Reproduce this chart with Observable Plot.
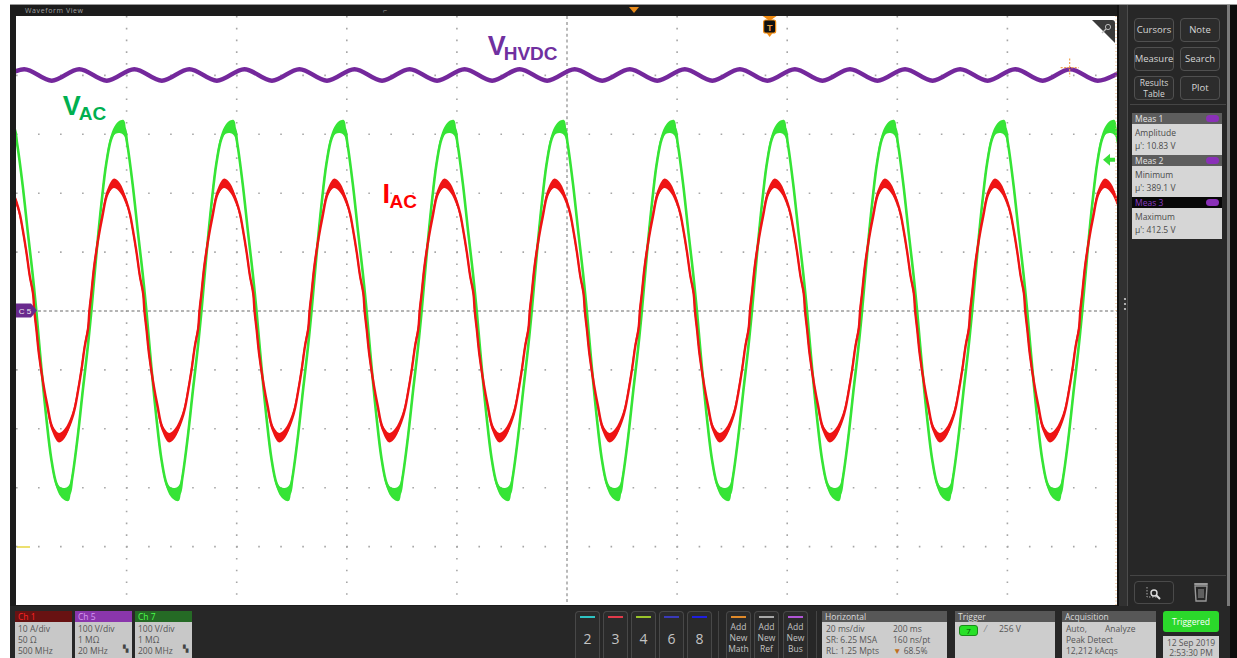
<!DOCTYPE html>
<html><head><meta charset="utf-8">
<script src="https://cdn.jsdelivr.net/npm/d3@7"></script>
<script src="https://cdn.jsdelivr.net/npm/@observablehq/plot@0.6"></script>
<style>
body{margin:0;width:1237px;height:658px;background:#fff;position:relative;overflow:hidden;font-family:"Open Sans","Noto Sans",sans-serif;}
.abs{position:absolute;}
.btn{position:absolute;width:38px;height:22px;border:1px solid #505050;border-radius:4px;background:#2c2c2c;color:#d6d6d6;font-size:9.5px;display:flex;align-items:center;justify-content:center;text-align:center;line-height:10px;}
.mh{position:absolute;left:1132px;width:87px;height:11px;background:#5d5d5d;color:#e6e6e6;font-size:8.5px;line-height:11px;padding-left:3px;}
.mb{position:absolute;left:1132px;width:87px;height:29px;background:#d6d6d6;color:#4a4a4a;font-size:8.5px;line-height:13px;padding:2px 0 0 3px;box-sizing:content-box;}
.pill{position:absolute;right:3px;top:2px;width:13px;height:7px;border-radius:4px;background:#8a30b8;}
.ch{position:absolute;top:611px;width:57px;height:47px;}
.chh{height:11px;font-size:8.5px;line-height:11px;padding-left:3px;}
.chb{height:36px;background:#c8c8c8;color:#555;font-size:8.5px;line-height:11px;padding:1px 0 0 3px;position:relative;}
.nb{position:absolute;top:611px;width:23px;height:47px;border:1px solid #484848;border-bottom:none;border-radius:4px 4px 0 0;background:#2b2b2b;color:#c4c4c4;text-align:center;}
.nb .ln{position:absolute;left:4px;top:4px;width:15px;height:2px;}
.nb .num{position:absolute;left:0;width:23px;top:17px;font-size:14px;}
.nb .add{position:absolute;left:0;width:23px;top:9px;font-size:8.5px;line-height:11px;}
.box{position:absolute;top:611px;height:47px;}
.bh{height:11px;background:#575757;color:#dcdcdc;font-size:8.5px;line-height:11px;padding-left:3px;}
.bb{height:36px;background:#cdcdcd;color:#555;font-size:8.5px;line-height:11px;padding:1px 0 0 4px;position:relative;}
</style></head><body>
<script>
const timeDomain = [-100, 100];           // ms, 20 ms/div, 10 div
const divDomain = [-5, 5];                // vertical divisions
const gridTimes = [-80, -60, -40, -20, 20, 40, 60, 80];
const gridDivs = [-4, -3, -2, -1, 1, 2, 3, 4];
const ch7VoltsPerDiv = 100;   // VAC
const ch5VoltsPerDiv = 100;   // VHVDC
const ch1AmpsPerDiv = 10;     // IAC

// VAC (Ch 7): one period, ms after the rising zero crossing
const vacCycleMs = [0, 0.9, 1.8, 2.7, 3.6, 4.5, 5.4, 6.0, 6.5, 7.5, 8.5, 9.3, 10.0, 10.9, 11.8, 12.7, 13.6, 14.5, 15.4, 16.0, 16.5, 17.5, 18.5, 19.3];
const vacCycleV  = [0, 95, 180, 250, 292, 308, 312, 310, 285, 215, 130, 65, 0, -95, -180, -250, -292, -308, -312, -310, -285, -215, -130, -65];
const vacNoiseV  = [3, 3, 3, 3, 5, 8, 11, 13, 4, 3, 3, 3, 3, 3, 3, 3, 5, 8, 11, 13, 4, 3, 3, 3];
const vacZeroCrossMs = [-126.4, -106.4, -86.4, -66.4, -46.4, -26.4, -6.4, 13.6, 33.6, 53.6, 73.6, 93.6];

// IAC (Ch 1): same period, ms after the VAC rising zero crossing
const iacCycleMs = [0, 0.5, 1.3, 2.0, 2.9, 4.2, 5.3, 6.4, 7.0, 7.5, 8.2, 8.8, 9.4, 9.64, 10.0, 10.5, 11.3, 12.0, 12.9, 14.2, 15.3, 16.4, 17.0, 17.5, 18.2, 18.8, 19.4, 19.64];
const iacCycleA  = [3, 7.5, 12.5, 16, 19.8, 21.6, 20.8, 18.5, 16.5, 14, 10, 6, 3, 0, -3, -7.5, -12.5, -16, -19.8, -21.6, -20.8, -18.5, -16.5, -14, -10, -6, -3, 0];
const iacNoiseA  = [0.4, 0.4, 0.4, 0.5, 0.6, 0.8, 0.8, 0.6, 0.5, 0.4, 0.4, 0.4, 0.4, 0.4, 0.4, 0.4, 0.4, 0.5, 0.6, 0.8, 0.8, 0.6, 0.5, 0.4, 0.4, 0.4, 0.4, 0.4];

// VHVDC (Ch 5): ripple extremes
const hvdcMaxMs = [-98.6, -88.6, -78.6, -68.6, -58.6, -48.6, -38.6, -28.6, -18.6, -8.6, 1.4, 11.4, 21.4, 31.4, 41.4, 51.4, 61.4, 71.4, 81.4, 91.4, 101.4];
const hvdcMinMs = [-103.6, -93.6, -83.6, -73.6, -63.6, -53.6, -43.6, -33.6, -23.6, -13.6, -3.6, 6.4, 16.4, 26.4, 36.4, 46.4, 56.4, 66.4, 76.4, 86.4, 96.4];
const hvdcMaxV = 410.5;
const hvdcMinV = 391.0;

const triggerMs = 36.9;
const triggerLevelV = 256;
const cursorMs = 91.4;
const cursorV = 412.5;

const labelText = ["V", "V", "I"];
const labelSub = ["HVDC", "AC", "AC"];
const labelMs = [-14.4, -91.6, -33.5];
const labelDiv = [4.34, 3.32, 1.83];
const labelSubDx = [16, 16, 7];
const labelColor = ["#7030a0", "#00b050", "#ff0000"];

// ---------- build tables ----------
const vac = [];
for (const z of vacZeroCrossMs) vacCycleMs.forEach((m, i) => vac.push({
  ms: z + m, div: vacCycleV[i] / ch7VoltsPerDiv,
  lo: (vacCycleV[i] - vacNoiseV[i]) / ch7VoltsPerDiv, hi: (vacCycleV[i] + vacNoiseV[i]) / ch7VoltsPerDiv}));
const iac = [];
for (const z of vacZeroCrossMs) iacCycleMs.forEach((m, i) => iac.push({
  ms: z + m, div: iacCycleA[i] / ch1AmpsPerDiv,
  lo: (iacCycleA[i] - iacNoiseA[i]) / ch1AmpsPerDiv, hi: (iacCycleA[i] + iacNoiseA[i]) / ch1AmpsPerDiv}));
const hvdc = hvdcMaxMs.map(ms => ({ms, div: hvdcMaxV / ch5VoltsPerDiv}))
  .concat(hvdcMinMs.map(ms => ({ms, div: hvdcMinV / ch5VoltsPerDiv})))
  .sort((a, b) => a.ms - b.ms);
const labels = labelText.map((t, i) => ({t, sub: labelSub[i], ms: labelMs[i], div: labelDiv[i], dx: labelSubDx[i], color: labelColor[i]}));

const green = "#36e436", red = "#ee1414", purple = "#74289c";
const plot = Plot.plot({
  width: 1101, height: 589,
  marginTop: 0, marginRight: 0, marginBottom: 0, marginLeft: 0,
  x: {domain: timeDomain, axis: null},
  y: {domain: divDomain, axis: null},
  style: {background: "#fff", overflow: "hidden"},
  marks: [
    Plot.ruleX(gridTimes, {stroke: "#a6a6a6", strokeWidth: 1.6, strokeDasharray: "1.6 10.18"}),
    Plot.ruleY(gridDivs, {stroke: "#a6a6a6", strokeWidth: 1.6, strokeDasharray: "1.6 20.42"}),
    Plot.ruleX([0], {stroke: "#9c9c9c", strokeWidth: 1.4, strokeDasharray: "3 2.89"}),
    Plot.ruleY([0], {stroke: "#9c9c9c", strokeWidth: 1.4, strokeDasharray: "3 2.5"}),
    Plot.line(hvdc, {x: "ms", y: "div", stroke: purple, strokeWidth: 4.5, curve: "catmull-rom"}),
    Plot.areaY(vac, {x: "ms", y1: "lo", y2: "hi", fill: green, curve: "catmull-rom"}),
    Plot.line(vac, {x: "ms", y: "div", stroke: green, strokeWidth: 2.6, curve: "catmull-rom"}),
    Plot.areaY(iac, {x: "ms", y1: "lo", y2: "hi", fill: red, curve: "catmull-rom"}),
    Plot.line(iac, {x: "ms", y: "div", stroke: red, strokeWidth: 2.4, curve: "catmull-rom"}),
    Plot.text(labels, {x: "ms", y: "div", text: "t", fill: "color", textAnchor: "start", lineAnchor: "bottom",
      fontSize: 27, fontWeight: "bold", fontFamily: "Liberation Sans, Arial, sans-serif"}),
    Plot.text(labels, {x: "ms", y: "div", text: "sub", fill: "color", textAnchor: "start", lineAnchor: "bottom",
      fontSize: 19, fontWeight: "bold", fontFamily: "Liberation Sans, Arial, sans-serif"})
  ]
});
// shift the subscripts
const subTexts = plot.querySelectorAll("g[aria-label='text']")[1].querySelectorAll("text");
subTexts.forEach((el, i) => { el.setAttribute("dx", labels[i].dx); el.setAttribute("dy", 5); });
plot.style.position = "absolute"; plot.style.left = "16px"; plot.style.top = "16px";

// ---------- chrome ----------
const html = `
<div class="abs" style="left:10px;top:5px;width:1227px;height:653px;background:#1c1c1c"></div>
<div class="abs" style="left:10px;top:4px;width:1227px;height:1px;background:#9a9a9a"></div>
<div class="abs" style="left:25px;top:6px;font-size:7px;color:#a0a0a0;letter-spacing:.6px">Waveform View</div>
<div class="abs" style="left:383px;top:6px;font-size:7px;color:#a0a0a0">⌐</div>
<svg class="abs" style="left:628px;top:6px" width="12" height="10"><path d="M1 1 H11 L6 7 Z" fill="#e88a1a"/></svg>
<div class="abs" style="left:1117px;top:5px;width:2px;height:602px;background:#111"></div>
<div class="abs" style="left:1119px;top:5px;width:8px;height:602px;background:#313131"></div>
<div class="abs" style="left:1127px;top:5px;width:1px;height:602px;background:#4c4c4c"></div>
<div class="abs" style="left:1128px;top:5px;width:99px;height:602px;background:#272727"></div>
<div class="abs" style="left:1227px;top:5px;width:3px;height:602px;background:#7a7a7a"></div>
<div class="abs" style="left:1230px;top:5px;width:7px;height:653px;background:#0c0c0c"></div>
<svg class="abs" style="left:1122px;top:296px" width="6" height="16"><circle cx="3" cy="3" r="1.1" fill="#cfcfcf"/><circle cx="3" cy="8" r="1.1" fill="#cfcfcf"/><circle cx="3" cy="13" r="1.1" fill="#cfcfcf"/></svg>
<div class="btn" style="left:1134px;top:18px">Cursors</div>
<div class="btn" style="left:1180px;top:18px">Note</div>
<div class="btn" style="left:1134px;top:47px">Measure</div>
<div class="btn" style="left:1180px;top:47px">Search</div>
<div class="btn" style="left:1134px;top:76px;font-size:8.5px;line-height:11px;flex-direction:column"><span>Results</span><span>Table</span></div>
<div class="btn" style="left:1180px;top:76px">Plot</div>
<div class="abs" style="left:1130px;top:104px;width:96px;height:1px;background:#454545"></div>
<div class="mh" style="top:113px">Meas 1<div class="pill"></div></div>
<div class="mb" style="top:124px">Amplitude<br>μ': 10.83 V</div>
<div class="mh" style="top:155px">Meas 2<div class="pill"></div></div>
<div class="mb" style="top:166px">Minimum<br>μ': 389.1 V</div>
<div class="mh" style="top:197px;background:#080808;color:#8a3cc4">Meas 3<div class="pill"></div></div>
<div class="mb" style="top:208px">Maximum<br>μ': 412.5 V</div>
<div class="abs" style="left:1130px;top:575px;width:96px;height:1px;background:#454545"></div>
<div class="btn" style="left:1134px;top:581px;height:21px;background:#262626;border-color:#4a4a4a">
 <svg width="20" height="16"><path d="M3 2 V12 H13" stroke="#aaa" stroke-dasharray="1.5 1.5" fill="none"/><circle cx="10" cy="8" r="3" stroke="#ddd" stroke-width="1.4" fill="none"/><path d="M12 10 L16 14" stroke="#ddd" stroke-width="2"/></svg></div>
<svg class="abs" style="left:1191px;top:581px" width="20" height="22"><rect x="3" y="2" width="14" height="2" rx="1" fill="#999"/><path d="M4 5 H16 L15 20 H5 Z" fill="none" stroke="#999" stroke-width="1.4"/><path d="M8 8 V17 M10 8 V17 M12 8 V17" stroke="#999" stroke-width="1"/></svg>

<div class="abs" style="left:10px;top:606px;width:1220px;height:52px;background:#272727"></div>
<div class="ch" style="left:15px"><div class="chh" style="background:#681212;color:#ff2424">Ch 1</div><div class="chb">10 A/div<br>50 Ω<br>500 MHz</div></div>
<div class="ch" style="left:75px"><div class="chh" style="background:#8a36ac;color:#d69af2">Ch 5</div><div class="chb">100 V/div<br>1 MΩ<br>20 MHz<span style="position:absolute;right:4px;bottom:5px;font-size:7px;color:#444">▚</span></div></div>
<div class="ch" style="left:135px"><div class="chh" style="background:#256a25;color:#4cff4c">Ch 7</div><div class="chb">100 V/div<br>1 MΩ<br>200 MHz<span style="position:absolute;right:4px;bottom:5px;font-size:7px;color:#444">▚</span></div></div>
<div class="nb" style="left:575px"><div class="ln" style="background:#2ec4c4"></div><div class="num">2</div></div>
<div class="nb" style="left:603px"><div class="ln" style="background:#e03a4a"></div><div class="num">3</div></div>
<div class="nb" style="left:631px"><div class="ln" style="background:#9ac42a"></div><div class="num">4</div></div>
<div class="nb" style="left:659px"><div class="ln" style="background:#3a3ab8"></div><div class="num">6</div></div>
<div class="nb" style="left:687px"><div class="ln" style="background:#1f1fe0"></div><div class="num">8</div></div>
<div class="abs" style="left:718px;top:611px;width:1px;height:47px;background:#444"></div>
<div class="nb" style="left:726px"><div class="ln" style="background:#e08a2a"></div><div class="add">Add<br>New<br>Math</div></div>
<div class="nb" style="left:754px"><div class="ln" style="background:#a8a8a8"></div><div class="add">Add<br>New<br>Ref</div></div>
<div class="nb" style="left:783px"><div class="ln" style="background:#b055d5"></div><div class="add">Add<br>New<br>Bus</div></div>
<div class="abs" style="left:816px;top:611px;width:1px;height:47px;background:#444"></div>
<div class="box" style="left:822px;width:125px"><div class="bh">Horizontal</div><div class="bb">20 ms/div<br>SR: 6.25 MSA<br>RL: 1.25 Mpts
 <div class="abs" style="left:71px;top:1px;line-height:11px">200 ms<br>160 ns/pt<br><span style="color:#c07020">▼</span> 68.5%</div></div></div>
<div class="box" style="left:955px;width:100px"><div class="bh">Trigger</div><div class="bb">
 <div class="abs" style="left:4px;top:3px;width:17px;height:9px;background:#27e027;border:1px solid #1a8a1a;border-radius:3px;font-size:8px;line-height:9px;text-align:center;color:#0a4a0a">7</div>
 <div class="abs" style="left:30px;top:1px;color:#777">⁄</div><div class="abs" style="left:44px;top:1px">256 V</div></div></div>
<div class="box" style="left:1062px;width:94px"><div class="bh">Acquisition</div><div class="bb">Auto,<span style="margin-left:18px">Analyze</span><br>Peak Detect<br>12,212 kAcqs</div></div>
<div class="abs" style="left:1163px;top:611px;width:56px;height:21px;background:#2bd82b;border-radius:3px;color:#fff;font-size:8.5px;line-height:21px;text-align:center">Triggered</div>
<div class="abs" style="left:1163px;top:636px;width:56px;height:22px;background:#cfcfcf;color:#555;font-size:8.5px;line-height:10px;text-align:center;padding-top:2px;box-sizing:border-box">12 Sep 2019<br>2:53:30 PM</div>
<div class="abs" style="left:16px;top:16px;width:1101px;height:589px;background:#fff"></div>
`;
document.body.insertAdjacentHTML("beforeend", html);
document.body.appendChild(plot);

// overlay markers placed through the plot's scales
const X = plot.scale("x"), Y = plot.scale("y");
const tx = X.apply(triggerMs), ty = Y.apply(triggerLevelV / ch7VoltsPerDiv), y0 = Y.apply(0);
const cx = X.apply(cursorMs), cy = Y.apply(cursorV / ch5VoltsPerDiv);
const ov = `
<svg class="abs" style="left:16px;top:16px;pointer-events:none" width="1101" height="589">
 <path d="M${tx-7} 0 H${tx+7} L${tx} 5 Z" fill="#f08a10"/>
 <rect x="${tx-6}" y="4" width="12" height="13" rx="2" fill="#111" stroke="#f08a10" stroke-width="1.2"/>
 <text x="${tx}" y="14.5" text-anchor="middle" font-size="9" font-weight="bold" fill="#f0a040" font-family="Liberation Sans, Arial">T</text>
 <path d="M${tx-3} 17 H${tx+3} L${tx} 21 Z" fill="#f08a10"/>
 <path d="M${1087} ${ty} L${1094} ${ty-6} V${ty-2} H${1099} V${ty+2} H${1094} V${ty+6} Z" fill="#38e038"/>
 <path d="M0 ${y0-7} H15 L21 ${y0} L15 ${y0+7} H0 Z" fill="#6a2a8e"/>
 <text x="9" y="${y0+3}" text-anchor="middle" font-size="8" fill="#eee" font-family="Liberation Sans, Arial">C 5</text>
 <path d="M1 531 H14" stroke="#e6d640" stroke-width="1.5"/>
 <path d="M${cx-9} ${cy} H${cx+9} M${cx} ${cy-9} V${cy+9}" stroke="#f0a050" stroke-width="1.2" stroke-dasharray="2 1.5"/>
 <path d="M1100 0 V589" stroke="#f0b070" stroke-width="1" stroke-dasharray="1 2.5"/>
 <path d="M1076 4 H1096 Q1099 4 1099 7 V27 Z" fill="#3a3a3a"/>
 <circle cx="1092" cy="11" r="2.6" fill="none" stroke="#bbb" stroke-width="1"/>
 <path d="M1090 13 L1086 17" stroke="#bbb" stroke-width="1.2"/>
</svg>`;
document.body.insertAdjacentHTML("beforeend", ov);
</script>
</body></html>
